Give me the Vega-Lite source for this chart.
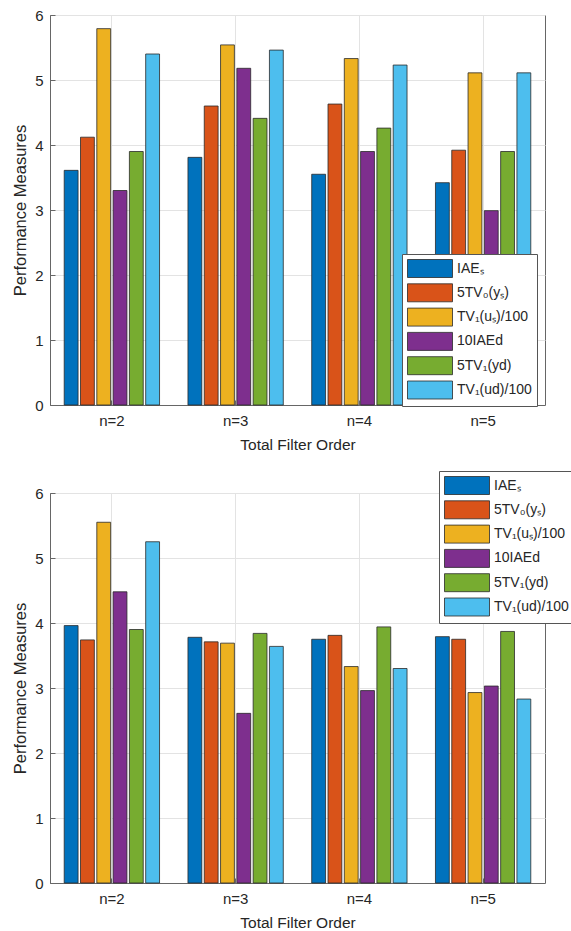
{
  "$schema": "https://vega.github.io/schema/vega-lite/v6.json",
  "padding": {"top": 7, "left": 12, "right": 0, "bottom": 0},
  "background": "white",
  "datasets": {
    "top": [
      {"n": "n=2", "measure": "IAEₛ", "value": 3.61},
      {"n": "n=2", "measure": "5TV₀(yₛ)", "value": 4.12},
      {"n": "n=2", "measure": "TV₁(uₛ)/100", "value": 5.79},
      {"n": "n=2", "measure": "10IAEd", "value": 3.30},
      {"n": "n=2", "measure": "5TV₁(yd)", "value": 3.90},
      {"n": "n=2", "measure": "TV₁(ud)/100", "value": 5.40},
      {"n": "n=3", "measure": "IAEₛ", "value": 3.81},
      {"n": "n=3", "measure": "5TV₀(yₛ)", "value": 4.60},
      {"n": "n=3", "measure": "TV₁(uₛ)/100", "value": 5.54},
      {"n": "n=3", "measure": "10IAEd", "value": 5.18},
      {"n": "n=3", "measure": "5TV₁(yd)", "value": 4.41},
      {"n": "n=3", "measure": "TV₁(ud)/100", "value": 5.46},
      {"n": "n=4", "measure": "IAEₛ", "value": 3.55},
      {"n": "n=4", "measure": "5TV₀(yₛ)", "value": 4.63},
      {"n": "n=4", "measure": "TV₁(uₛ)/100", "value": 5.33},
      {"n": "n=4", "measure": "10IAEd", "value": 3.90},
      {"n": "n=4", "measure": "5TV₁(yd)", "value": 4.26},
      {"n": "n=4", "measure": "TV₁(ud)/100", "value": 5.23},
      {"n": "n=5", "measure": "IAEₛ", "value": 3.42},
      {"n": "n=5", "measure": "5TV₀(yₛ)", "value": 3.92},
      {"n": "n=5", "measure": "TV₁(uₛ)/100", "value": 5.11},
      {"n": "n=5", "measure": "10IAEd", "value": 2.99},
      {"n": "n=5", "measure": "5TV₁(yd)", "value": 3.90},
      {"n": "n=5", "measure": "TV₁(ud)/100", "value": 5.11}
    ],
    "bottom": [
      {"n": "n=2", "measure": "IAEₛ", "value": 3.96},
      {"n": "n=2", "measure": "5TV₀(yₛ)", "value": 3.74},
      {"n": "n=2", "measure": "TV₁(uₛ)/100", "value": 5.55},
      {"n": "n=2", "measure": "10IAEd", "value": 4.48},
      {"n": "n=2", "measure": "5TV₁(yd)", "value": 3.90},
      {"n": "n=2", "measure": "TV₁(ud)/100", "value": 5.25},
      {"n": "n=3", "measure": "IAEₛ", "value": 3.78},
      {"n": "n=3", "measure": "5TV₀(yₛ)", "value": 3.71},
      {"n": "n=3", "measure": "TV₁(uₛ)/100", "value": 3.69},
      {"n": "n=3", "measure": "10IAEd", "value": 2.61},
      {"n": "n=3", "measure": "5TV₁(yd)", "value": 3.84},
      {"n": "n=3", "measure": "TV₁(ud)/100", "value": 3.64},
      {"n": "n=4", "measure": "IAEₛ", "value": 3.75},
      {"n": "n=4", "measure": "5TV₀(yₛ)", "value": 3.81},
      {"n": "n=4", "measure": "TV₁(uₛ)/100", "value": 3.33},
      {"n": "n=4", "measure": "10IAEd", "value": 2.96},
      {"n": "n=4", "measure": "5TV₁(yd)", "value": 3.94},
      {"n": "n=4", "measure": "TV₁(ud)/100", "value": 3.30},
      {"n": "n=5", "measure": "IAEₛ", "value": 3.79},
      {"n": "n=5", "measure": "5TV₀(yₛ)", "value": 3.75},
      {"n": "n=5", "measure": "TV₁(uₛ)/100", "value": 2.93},
      {"n": "n=5", "measure": "10IAEd", "value": 3.03},
      {"n": "n=5", "measure": "5TV₁(yd)", "value": 3.87},
      {"n": "n=5", "measure": "TV₁(ud)/100", "value": 2.83}
    ]
  },
  "config": {
    "font": "Liberation Sans",
    "view": {"stroke": "#666666", "strokeWidth": 1},
    "axis": {
      "labelFontSize": 15, "titleFontSize": 15.5, "titleFontWeight": "normal",
      "labelColor": "#262626", "titleColor": "#262626",
      "domainColor": "#666666", "tickColor": "#666666",
      "gridColor": "#e3e3e3", "labelFont": "Liberation Sans", "titleFont": "Liberation Sans"
    },
    "legend": {
      "symbolType": "M-2.5,-1H2.5V1H-2.5Z",
      "symbolSize": 324,
      "symbolOffset": 13.5,
      "symbolStrokeColor": "#2a2a2a",
      "symbolStrokeWidth": 0.8,
      "symbolOpacity": 1,
      "labelFontSize": 14,
      "labelColor": "#262626",
      "labelFont": "Liberation Sans",
      "labelOffset": 17.5,
      "labelLimit": 200,
      "strokeColor": "#555555",
      "fillColor": "white",
      "padding": 5,
      "rowPadding": 1.3,
      "cornerRadius": 0
    },
    "concat": {"spacing": 17}
  },
  "resolve": {"legend": {"color": "independent"}},
  "vconcat": [
    {
      "width": 495, "height": 390,
      "data": {"name": "top"},
      "mark": {"type": "bar", "stroke": "#2a2a2a", "strokeWidth": 0.8},
      "encoding": {
        "x": {"field": "n", "type": "nominal", "sort": ["n=2", "n=3", "n=4", "n=5"],
          "scale": {"paddingInner": 0.21, "paddingOuter": 0.105},
          "axis": {"title": "Total Filter Order", "labelAngle": 0, "grid": true, "bandPosition": 0.5, "tickSize": -5, "labelPadding": 13, "titlePadding": 9}},
        "xOffset": {"field": "measure", "type": "nominal",
          "scale": {"domain": ["IAEₛ", "5TV₀(yₛ)", "TV₁(uₛ)/100", "10IAEd", "5TV₁(yd)", "TV₁(ud)/100"], "paddingInner": 0.15, "paddingOuter": 0.075}},
        "y": {"field": "value", "type": "quantitative", "scale": {"domain": [0, 6]},
          "axis": {"title": "Performance Measures", "titleFontSize": 16.5, "values": [0, 1, 2, 3, 4, 5, 6], "grid": true, "tickSize": -5, "labelPadding": 12, "titlePadding": 6}},
        "color": {"field": "measure", "type": "nominal",
          "scale": {"domain": ["IAEₛ", "5TV₀(yₛ)", "TV₁(uₛ)/100", "10IAEd", "5TV₁(yd)", "TV₁(ud)/100"],
            "range": ["#0072BD", "#D95319", "#EDB120", "#7E2F8E", "#77AC30", "#4DBEEE"]},
          "legend": {"orient": "none", "legendX": 352, "legendY": 239, "title": null}}
      }
    },
    {
      "width": 495, "height": 390,
      "data": {"name": "bottom"},
      "mark": {"type": "bar", "stroke": "#2a2a2a", "strokeWidth": 0.8},
      "encoding": {
        "x": {"field": "n", "type": "nominal", "sort": ["n=2", "n=3", "n=4", "n=5"],
          "scale": {"paddingInner": 0.21, "paddingOuter": 0.105},
          "axis": {"title": "Total Filter Order", "labelAngle": 0, "grid": true, "bandPosition": 0.5, "tickSize": -5, "labelPadding": 13, "titlePadding": 9}},
        "xOffset": {"field": "measure", "type": "nominal",
          "scale": {"domain": ["IAEₛ", "5TV₀(yₛ)", "TV₁(uₛ)/100", "10IAEd", "5TV₁(yd)", "TV₁(ud)/100"], "paddingInner": 0.15, "paddingOuter": 0.075}},
        "y": {"field": "value", "type": "quantitative", "scale": {"domain": [0, 6]},
          "axis": {"title": "Performance Measures", "titleFontSize": 16.5, "values": [0, 1, 2, 3, 4, 5, 6], "grid": true, "tickSize": -5, "labelPadding": 12, "titlePadding": 6}},
        "color": {"field": "measure", "type": "nominal",
          "scale": {"domain": ["IAEₛ", "5TV₀(yₛ)", "TV₁(uₛ)/100", "10IAEd", "5TV₁(yd)", "TV₁(ud)/100"],
            "range": ["#0072BD", "#D95319", "#EDB120", "#7E2F8E", "#77AC30", "#4DBEEE"]},
          "legend": {"orient": "none", "legendX": 389, "legendY": -22, "title": null}}
      }
    }
  ]
}
